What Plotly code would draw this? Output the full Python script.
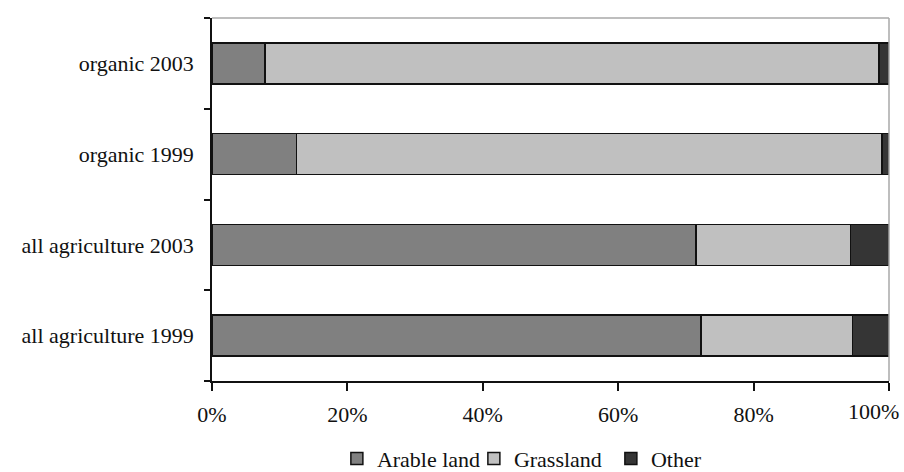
import plotly.graph_objects as go

# Land use shares by sector and year (fraction of total area)
categories = ["all agriculture 1999", "all agriculture 2003", "organic 1999", "organic 2003"]
arable = [0.722, 0.715, 0.125, 0.078]
grassland = [0.224, 0.228, 0.865, 0.907]
other = [0.054, 0.057, 0.010, 0.015]

series_names = ["Arable land", "Grassland", "Other"]
series_values = [arable, grassland, other]
series_colors = ["#808080", "#c0c0c0", "#353535"]

x_ticks = [0, 0.2, 0.4, 0.6, 0.8, 1.0]
x_tick_text = ["0%", "20%", "40%", "60%", "80%", ""]
last_tick_label = "100%"   # drawn right-aligned so it stays inside the page

FONT = "Liberation Serif"
FS = 22

fig = go.Figure()
for name, vals, col in zip(series_names, series_values, series_colors):
    fig.add_trace(go.Bar(
        y=categories, x=vals, name=name, orientation="h",
        marker=dict(color=col, line=dict(color="#111111", width=1.5)),
    ))

fig.add_annotation(
    text=last_tick_label, xref="paper", yref="paper", x=1, y=-0.085,
    xanchor="right", yanchor="middle", xshift=12, showarrow=False,
    font=dict(family=FONT, size=FS, color="#111111"),
)

fig.update_layout(
    barmode="stack",
    bargap=0.55,
    width=904, height=472,
    margin=dict(l=212, r=15, t=18, b=91, autoexpand=False),
    paper_bgcolor="white", plot_bgcolor="white",
    font=dict(family=FONT, size=FS, color="#111111"),
    showlegend=True,
    legend=dict(
        orientation="h", x=0.488, xanchor="center", y=-0.214, yanchor="middle",
        font=dict(family=FONT, size=FS), traceorder="normal",
        itemwidth=30, entrywidth=92, entrywidthmode="pixels",
        bgcolor="rgba(0,0,0,0)",
    ),
    xaxis=dict(
        range=[0, 1.0001], tickvals=x_ticks, ticktext=x_tick_text,
        showgrid=False, zeroline=False, automargin=False,
        showline=True, linecolor="#111111", linewidth=1.5,
        ticks="outside", ticklen=8, tickcolor="#111111", tickwidth=1.5,
        ticklabelstandoff=5,
        tickfont=dict(family=FONT, size=FS),
    ),
    yaxis=dict(
        categoryorder="array", categoryarray=categories,
        showgrid=False, zeroline=False, automargin=False,
        showline=True, linecolor="#111111", linewidth=1.5,
        ticks="outside", tickson="boundaries", ticklen=6,
        tickcolor="#111111", tickwidth=1.5, ticklabelstandoff=12,
        tickfont=dict(family=FONT, size=FS),
    ),
    shapes=[
        dict(type="line", xref="paper", yref="paper", x0=0, x1=1, y0=1, y1=1,
             line=dict(color="#a8a8a8", width=1.5)),
        dict(type="line", xref="paper", yref="paper", x0=1, x1=1, y0=0, y1=1,
             line=dict(color="#a8a8a8", width=1.5)),
    ],
)

fig.write_html("out.html")
